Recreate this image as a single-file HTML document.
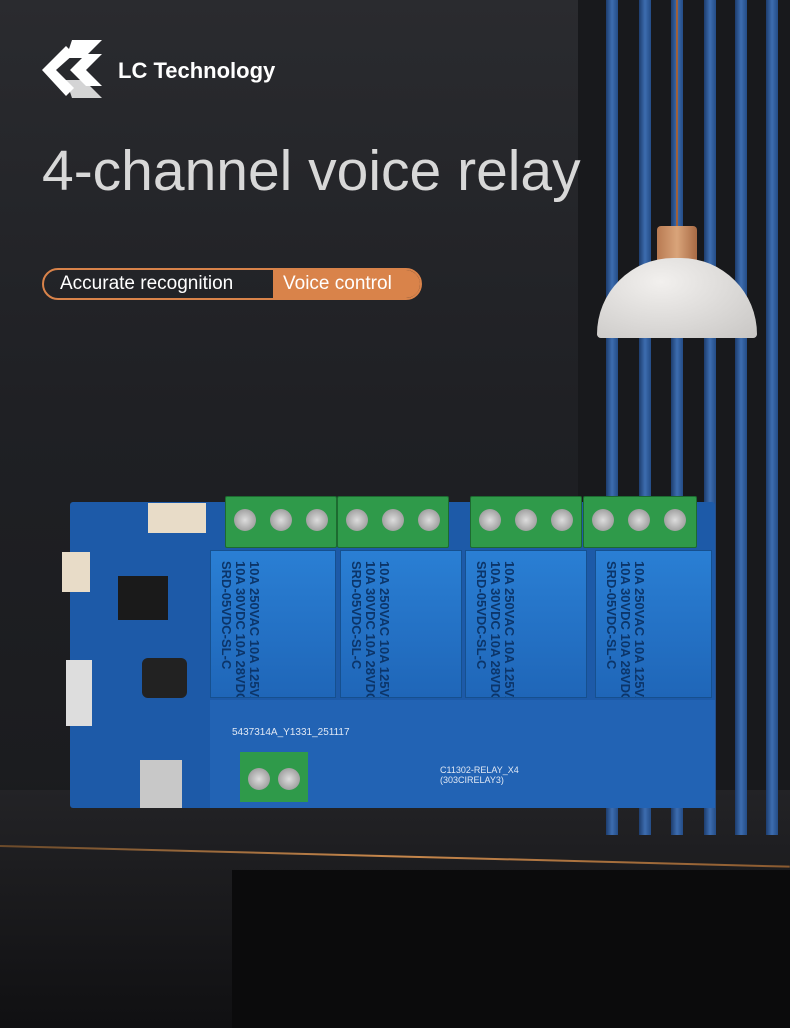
<!DOCTYPE html>
<html><head><meta charset="utf-8"><style>
body{margin:0;width:790px;height:1028px;overflow:hidden;position:relative;font-family:"Liberation Sans",sans-serif;
background:linear-gradient(180deg,#2a2b2f 0%,#1f2024 40%,#1b1c1f 75%,#141416 100%);}
.a{position:absolute}
.stripe{position:absolute;top:0;height:835px;width:12px;background:linear-gradient(90deg,#1d3d6e,#3d6db0,#244c86)}
.term{position:absolute;top:496px;height:50px;background:#2f9a4a;border:1px solid #1d6a30;border-radius:2px}
.screw{position:absolute;top:12px;width:22px;height:22px;border-radius:50%;background:radial-gradient(#ddd,#888);}
.relay{position:absolute;top:550px;height:146px;background:linear-gradient(180deg,#2a7fd4,#1f66b8);border:1px solid #16508f;color:#0c3569;font-size:13px;font-weight:bold;overflow:hidden}
.rt{position:absolute;left:8px;top:10px;transform:rotate(90deg) translate(0,-100%);transform-origin:0 0;white-space:nowrap;line-height:14px;color:#0c3569}
</style></head><body>
<div class="a" style="left:578px;top:0;width:212px;height:835px;background:#18191c"></div>
<div class="a" style="left:0;top:790px;width:790px;height:238px;background:linear-gradient(180deg,#232326,#101012)"></div>
<div class="stripe" style="left:606px"></div>
<div class="stripe" style="left:639px"></div>
<div class="stripe" style="left:671px"></div>
<div class="stripe" style="left:704px"></div>
<div class="stripe" style="left:735px"></div>
<div class="stripe" style="left:766px"></div>
<div class="a" style="left:0;top:845px;width:790px;height:2px;background:linear-gradient(90deg,#6b4a2a,#c8884c,#8a5a30);transform:rotate(1.5deg);transform-origin:0 0"></div>
<div class="a" style="left:232px;top:870px;width:558px;height:158px;background:#0b0b0c"></div>
<!-- lamp -->
<div class="a" style="left:676px;top:0;width:2px;height:228px;background:#a0603a"></div>
<div class="a" style="left:657px;top:226px;width:40px;height:36px;background:linear-gradient(90deg,#b87a52,#d9a47a,#a86a44);border-radius:4px 4px 0 0"></div>
<div class="a" style="left:597px;top:258px;width:160px;height:80px;background:radial-gradient(ellipse at 40% 30%,#f2f0ee,#c8c6c4);border-radius:80px 80px 4px 4px"></div>
<!-- logo -->
<svg class="a" style="left:42px;top:40px" width="72" height="58" viewBox="0 0 72 58">
<polygon points="30,0 60,0 42,18 24,18" fill="#fff"/><polygon points="0,30 24,6 32,14 14,30 32,48 24,56" fill="#fff"/>
<polygon points="28,30 44,14 60,14 44,30 60,46 44,46" fill="#fff"/><polygon points="30,58 60,58 42,40 24,40" fill="#fff" opacity=".8"/></svg>
<div class="a" style="left:118px;top:58px;color:#fff;font-size:22px;font-weight:bold">LC Technology</div>
<div class="a" style="left:42px;top:138px;font-size:57px;color:#d8d8d8">4-channel voice relay</div>
<div class="a" style="left:42px;top:268px;width:376px;height:28px;border:2px solid #d9834a;border-radius:16px;overflow:hidden">
<div class="a" style="left:16px;top:3px;color:#fff;font-size:19px">Accurate recognition</div>
<div class="a" style="left:229px;top:0;width:147px;height:28px;background:#d9834a;color:#fff;font-size:19px;line-height:28px;padding-left:10px">Voice control</div></div>
<!-- board -->
<div class="a" style="left:70px;top:502px;width:645px;height:306px;background:#1d5aa8;border-radius:3px"></div>
<div class="a" style="left:210px;top:700px;width:505px;height:108px;background:#2263b4"></div>
<div class="term" style="left:225px;width:110px"><div class="screw" style="left:8px"></div><div class="screw" style="left:44px"></div><div class="screw" style="left:80px"></div></div>
<div class="term" style="left:337px;width:110px"><div class="screw" style="left:8px"></div><div class="screw" style="left:44px"></div><div class="screw" style="left:80px"></div></div>
<div class="term" style="left:470px;width:110px"><div class="screw" style="left:8px"></div><div class="screw" style="left:44px"></div><div class="screw" style="left:80px"></div></div>
<div class="term" style="left:583px;width:112px"><div class="screw" style="left:8px"></div><div class="screw" style="left:44px"></div><div class="screw" style="left:80px"></div></div>
<div class="relay" style="left:210px;width:124px"><div class="rt">10A 250VAC 10A 125VAC<br>10A 30VDC 10A 28VDC<br>SRD-05VDC-SL-C</div></div>
<div class="relay" style="left:340px;width:120px"><div class="rt">10A 250VAC 10A 125VAC<br>10A 30VDC 10A 28VDC<br>SRD-05VDC-SL-C</div></div>
<div class="relay" style="left:465px;width:120px"><div class="rt">10A 250VAC 10A 125VAC<br>10A 30VDC 10A 28VDC<br>SRD-05VDC-SL-C</div></div>
<div class="relay" style="left:595px;width:115px"><div class="rt">10A 250VAC 10A 125VAC<br>10A 30VDC 10A 28VDC<br>SRD-05VDC-SL-C</div></div>
<div class="a" style="left:118px;top:576px;width:50px;height:44px;background:#1a1a1a"></div>
<div class="a" style="left:142px;top:658px;width:45px;height:40px;background:#222;border-radius:6px"></div>
<div class="a" style="left:66px;top:660px;width:26px;height:66px;background:#ddd"></div>
<div class="a" style="left:62px;top:552px;width:28px;height:40px;background:#e8dcc8"></div>
<div class="a" style="left:148px;top:503px;width:58px;height:30px;background:#e8dcc8"></div>
<div class="a" style="left:140px;top:760px;width:42px;height:48px;background:#c8c8c8"></div>
<div class="a" style="left:240px;top:752px;width:68px;height:50px;background:#2f9a4a"><div class="screw" style="left:8px;top:16px"></div><div class="screw" style="left:38px;top:16px"></div></div>
<div class="a" style="left:440px;top:765px;color:#e0e8f4;font-size:9px">C11302-RELAY_X4<br>(303CIRELAY3)</div>
<div class="a" style="left:232px;top:727px;color:#e0e8f4;font-size:10px">5437314A_Y1331_251117</div>
</body></html>
